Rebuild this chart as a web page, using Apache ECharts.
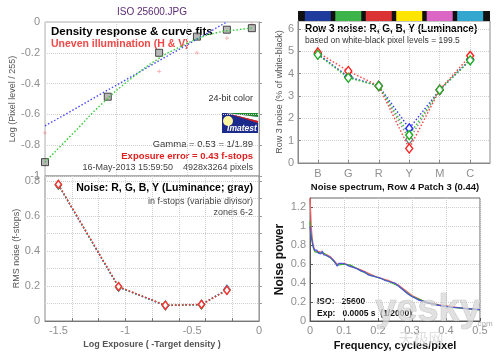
<!DOCTYPE html>
<html>
<head>
<meta charset="utf-8">
<script src="https://cdn.jsdelivr.net/npm/echarts@6/dist/echarts.min.js"></script>
<style>
  html, body { margin: 0; padding: 0; background: #fff; }
  #main { width: 500px; height: 353px; }
</style>
</head>
<body>
<div id="main"></div>
<script>
// density response (top left)
const densX = [-1.5, -1.06, -0.70, -0.435, -0.225, -0.05];
const densLevel = [-0.91, -0.485, -0.2, -0.095, -0.05, -0.04];
const densUneven = [-0.72, -0.49, -0.32, -0.2, -0.105, -0.015];
const fitX = [-1.5, -1.3, -1.1, -0.9, -0.7, -0.55, -0.435, -0.3, -0.15, -0.05];
const fitGreen = [-0.91, -0.72, -0.53, -0.37, -0.235, -0.16, -0.11, -0.07, -0.05, -0.04];
const fitBlueX = [-1.5, -0.225];
const fitBlue = [-0.675, 0];

// RMS noise in f-stops (bottom left)
const stopX = [-1.5, -1.05, -0.70, -0.43, -0.24];
const stopR = [0.782, 0.197, 0.09, 0.095, 0.176];
const stopG = [0.780, 0.195, 0.09, 0.093, 0.178];
const stopB = [0.779, 0.194, 0.089, 0.094, 0.181];
const stopY = [0.780, 0.195, 0.088, 0.094, 0.177];

// row 3 noise (top right)
const patchNames = ['B', 'G', 'R', 'Y', 'M', 'C'];
const patchPos = [1, 2, 3, 4, 5, 6];
const patchColors = ['#1f3b9b', '#3bb44a', '#db3334', '#ffe500', '#dc66c6', '#34a7d0'];
const row3R = [4.95, 4.12, 3.45, 0.65, 3.28, 4.80];
const row3G = [4.85, 3.82, 3.45, 1.25, 3.28, 4.60];
const row3B = [4.88, 3.85, 3.46, 1.55, 3.27, 4.62];
const row3Y = [4.88, 3.87, 3.44, 1.05, 3.28, 4.65];

// noise spectrum (bottom right)
const freq = [0, 0.002, 0.004, 0.006, 0.008, 0.01, 0.013, 0.016, 0.02, 0.024, 0.028, 0.032, 0.036, 0.04,
  0.045, 0.05, 0.055, 0.06, 0.065, 0.07, 0.075, 0.08, 0.085, 0.09, 0.095, 0.1, 0.105, 0.11, 0.115, 0.12,
  0.125, 0.13, 0.14, 0.15, 0.16, 0.17, 0.18, 0.19, 0.2, 0.21, 0.22, 0.23, 0.24, 0.25, 0.26, 0.27, 0.28,
  0.29, 0.3, 0.31, 0.32, 0.33, 0.34, 0.35, 0.36, 0.37, 0.38, 0.39, 0.4, 0.42, 0.44, 0.46, 0.48, 0.5];
const powerB = [1.0, 0.93, 0.88, 0.85, 0.80, 0.78, 0.75, 0.73, 0.75, 0.72, 0.74, 0.71, 0.74, 0.70,
  0.72, 0.69, 0.70, 0.67, 0.66, 0.64, 0.62, 0.58, 0.61, 0.62, 0.61, 0.61, 0.60, 0.61, 0.58, 0.59,
  0.57, 0.57, 0.55, 0.53, 0.52, 0.49, 0.48, 0.47, 0.46, 0.45, 0.43, 0.42, 0.41, 0.40, 0.37, 0.34, 0.31,
  0.28, 0.26, 0.24, 0.22, 0.21, 0.20, 0.19, 0.18, 0.17, 0.165, 0.16, 0.155, 0.145, 0.14, 0.13, 0.125, 0.12];
const freqC = [0, 0.002, 0.004, 0.007, 0.01, 0.015, 0.02, 0.03, 0.04, 0.05, 0.06, 0.08, 0.1, 0.12, 0.15,
  0.18, 0.2, 0.23, 0.26, 0.3, 0.34, 0.38, 0.42, 0.46, 0.5];
const powerR = [1.30, 1.15, 0.98, 0.86, 0.79, 0.74, 0.74, 0.73, 0.71, 0.70, 0.68, 0.60, 0.61, 0.58, 0.54,
  0.49, 0.46, 0.43, 0.38, 0.27, 0.20, 0.17, 0.15, 0.13, 0.12];
const powerG = [1.05, 0.95, 0.90, 0.83, 0.77, 0.73, 0.75, 0.72, 0.72, 0.69, 0.67, 0.59, 0.60, 0.59, 0.53,
  0.48, 0.46, 0.42, 0.37, 0.26, 0.20, 0.165, 0.145, 0.13, 0.118];

const FONT = 'Liberation Sans, Arial, sans-serif';
const pairs = (xs, ys) => xs.map((x, i) => [x, ys[i]]);

const dotGrid = { show: true, lineStyle: { color: '#d0d0d0', type: 'dotted', width: 1 } };
const tickLabel = { color: '#8f8f8f', fontSize: 10, fontFamily: FONT, margin: 5 };

let mychart = echarts.init(document.getElementById('main'));

const lineDot = (color) => ({ color: color, type: [1.5, 2], width: 1.4 });
const hollow = (color) => ({ color: '#fff', borderColor: color, borderWidth: 1.4 });

var option = {
  animation: false,
  backgroundColor: '#fff',
  grid: [
    { left: 45, top: 22, width: 214, height: 154, show: true, borderColor: '#b0b0b0', borderWidth: 1 },
    { left: 45, top: 176, width: 214, height: 145, show: true, borderColor: '#888', borderWidth: 1 },
    { left: 298, top: 21, width: 192, height: 142, show: true, borderColor: '#888', borderWidth: 1 },
    { left: 310, top: 198, width: 170, height: 123, show: true, borderColor: '#666', borderWidth: 1 },
    { left: 298, top: 11, width: 192, height: 10, show: true, backgroundColor: '#111', borderWidth: 0 }
  ],
  xAxis: [
    { gridIndex: 0, type: 'value', min: -1.5, max: 0, interval: 0.5,
      axisLine: { show: false }, axisTick: { show: false }, axisLabel: { show: false }, splitLine: dotGrid },
    { gridIndex: 1, type: 'value', min: -1.6, max: 0,
      name: 'Log Exposure ( -Target density )', nameLocation: 'middle', nameGap: 19,
      nameTextStyle: { color: '#555', fontSize: 9, fontWeight: 'bold', fontFamily: FONT },
      axisLine: { lineStyle: { color: '#777' } },
      axisTick: { inside: true, length: 3, lineStyle: { color: '#777' },
        customValues: [-1.4, -1.2, -1.0, -0.8, -0.6, -0.4, -0.2] },
      axisLabel: Object.assign({}, tickLabel, { customValues: [-1.5, -1, -0.5, 0], fontSize: 11, margin: 4 }),
      splitLine: dotGrid },
    { gridIndex: 2, type: 'value', min: 0.35, max: 6.65,
      axisLine: { lineStyle: { color: '#888' } },
      axisTick: { inside: true, length: 3, lineStyle: { color: '#888' }, customValues: patchPos },
      axisLabel: Object.assign({}, tickLabel, { customValues: patchPos, fontSize: 11,
        formatter: (v) => patchNames[Math.round(v) - 1] }),
      splitLine: dotGrid },
    { gridIndex: 3, type: 'value', min: 0, max: 0.5, interval: 0.1,
      name: 'Frequency, cycles/pixel', nameLocation: 'middle', nameGap: 19,
      nameTextStyle: { color: '#111', fontSize: 11, fontWeight: 'bold', fontFamily: FONT },
      axisLine: { lineStyle: { color: '#555' } },
      axisTick: { inside: true, length: 3, lineStyle: { color: '#555' } },
      axisLabel: Object.assign({}, tickLabel, { fontSize: 11, margin: 4 }),
      splitLine: dotGrid },
    { gridIndex: 4, type: 'value', min: 0.35, max: 6.65, show: false }
  ],
  yAxis: [
    { gridIndex: 0, type: 'value', min: -1, max: 0, interval: 0.2,
      name: 'Log (Pixel level / 255)', nameLocation: 'middle', nameGap: 26, nameRotate: 90,
      nameTextStyle: { color: '#555', fontSize: 9, fontFamily: FONT },
      axisLine: { show: true, lineStyle: { color: '#999' } },
      axisTick: { inside: true, length: 3, lineStyle: { color: '#999' } },
      axisLabel: Object.assign({}, tickLabel, { fontSize: 11 }),
      splitLine: dotGrid },
    { gridIndex: 1, type: 'value', min: 0, max: 0.83,
      name: 'RMS noise (f-stops)', nameLocation: 'middle', nameGap: 24, nameRotate: 90,
      nameTextStyle: { color: '#555', fontSize: 9, fontFamily: FONT },
      axisLine: { show: true, lineStyle: { color: '#999' } },
      axisTick: { inside: true, length: 3, lineStyle: { color: '#999' },
        customValues: [0.1, 0.2, 0.3, 0.4, 0.5, 0.6, 0.7, 0.8] },
      axisLabel: Object.assign({}, tickLabel, { fontSize: 11, customValues: [0, 0.2, 0.4, 0.6, 0.8] }),
      splitLine: dotGrid },
    { gridIndex: 2, type: 'value', min: 0, max: 6.36,
      name: 'Row 3 noise (% of white-black)', nameLocation: 'middle', nameGap: 13, nameRotate: 90,
      nameTextStyle: { color: '#555', fontSize: 9, fontFamily: FONT },
      axisLine: { show: true, lineStyle: { color: '#888' } },
      axisTick: { inside: true, length: 3, lineStyle: { color: '#888' }, customValues: [1, 2, 3, 4, 5, 6] },
      axisLabel: Object.assign({}, tickLabel, { fontSize: 11, margin: 4, customValues: [0, 1, 2, 3, 4, 5, 6] }),
      splitLine: dotGrid },
    { gridIndex: 3, type: 'value', min: 0, max: 1.3,
      name: 'Noise power', nameLocation: 'middle', nameGap: 24, nameRotate: 90,
      nameTextStyle: { color: '#111', fontSize: 12, fontWeight: 'bold', fontFamily: FONT },
      axisLine: { show: true, lineStyle: { color: '#555' } },
      axisTick: { inside: true, length: 3, lineStyle: { color: '#555' },
        customValues: [0.2, 0.4, 0.6, 0.8, 1, 1.2] },
      axisLabel: Object.assign({}, tickLabel, { fontSize: 11, margin: 4,
        customValues: [0, 0.2, 0.4, 0.6, 0.8, 1, 1.2] }),
      splitLine: dotGrid },
    { gridIndex: 4, type: 'value', min: 0, max: 1, show: false }
  ],
  series: [
    // top left
    { type: 'line', xAxisIndex: 0, yAxisIndex: 0, data: pairs(fitBlueX, fitBlue),
      symbol: 'none', lineStyle: lineDot('#4646ff') },
    { type: 'line', xAxisIndex: 0, yAxisIndex: 0, data: pairs(fitX, fitGreen), smooth: true,
      symbol: 'none', lineStyle: lineDot('#33cc33') },
    { type: 'scatter', xAxisIndex: 0, yAxisIndex: 0, data: pairs(densX, densUneven),
      symbol: 'path://M2,0H3V2H5V3H3V5H2V3H0V2H2Z', symbolSize: 4, itemStyle: { color: '#f39090' } },
    { type: 'scatter', xAxisIndex: 0, yAxisIndex: 0, data: pairs(densX, densLevel),
      symbol: 'rect', symbolSize: 7, itemStyle: { color: '#a8a8a8', borderColor: '#222', borderWidth: 1 } },
    // bottom left
    { type: 'line', xAxisIndex: 1, yAxisIndex: 1, data: pairs(stopX, stopY), symbol: 'diamond',
      symbolSize: [6, 8], lineStyle: lineDot('#808080'), itemStyle: hollow('#808080') },
    { type: 'line', xAxisIndex: 1, yAxisIndex: 1, data: pairs(stopX, stopB), symbol: 'diamond',
      symbolSize: [6, 8], lineStyle: lineDot('#3a3aff'), itemStyle: hollow('#3a3aff') },
    { type: 'line', xAxisIndex: 1, yAxisIndex: 1, data: pairs(stopX, stopG), symbol: 'diamond',
      symbolSize: [6, 8], lineStyle: lineDot('#2eb82e'), itemStyle: hollow('#2eb82e') },
    { type: 'line', xAxisIndex: 1, yAxisIndex: 1, data: pairs(stopX, stopR), symbol: 'diamond',
      symbolSize: [6, 8], lineStyle: lineDot('#ff3030'), itemStyle: hollow('#ff3030') },
    // top right
    { type: 'line', xAxisIndex: 2, yAxisIndex: 2, data: pairs(patchPos, row3Y), symbol: 'diamond',
      symbolSize: [7, 9], lineStyle: lineDot('#8c8c8c'), itemStyle: hollow('#7a7a7a') },
    { type: 'line', xAxisIndex: 2, yAxisIndex: 2, data: pairs(patchPos, row3B), symbol: 'diamond',
      symbolSize: [7, 9], lineStyle: lineDot('#3a3aff'), itemStyle: hollow('#2a2aff') },
    { type: 'line', xAxisIndex: 2, yAxisIndex: 2, data: pairs(patchPos, row3R), symbol: 'diamond',
      symbolSize: [7, 9], lineStyle: lineDot('#ff4040'), itemStyle: hollow('#ff2020') },
    { type: 'line', xAxisIndex: 2, yAxisIndex: 2, data: pairs(patchPos, row3G), symbol: 'diamond',
      symbolSize: [7, 9], lineStyle: lineDot('#33c033'), itemStyle: hollow('#22b022') },
    // color patches
    { type: 'bar', xAxisIndex: 4, yAxisIndex: 4, barWidth: 26,
      data: patchPos.map((p, i) => ({ value: [p, 1], itemStyle: { color: patchColors[i] } })) },
    // bottom right
    { type: 'line', xAxisIndex: 3, yAxisIndex: 3, data: pairs(freqC, powerR), symbol: 'none',
      lineStyle: { color: '#ff6060', width: 1.2 } },
    { type: 'line', xAxisIndex: 3, yAxisIndex: 3, data: pairs(freqC, powerG), symbol: 'none',
      lineStyle: { color: '#30b030', width: 1.2 } },
    { type: 'line', xAxisIndex: 3, yAxisIndex: 3, data: pairs(freq, powerB), symbol: 'none',
      lineStyle: { color: '#5050e0', width: 1.2 } }
  ],
  graphic: [
    { type: 'text', x: 152, y: 12, style: { text: 'ISO 25600.JPG', fill: '#5b2a72', font: '10px ' + FONT,
      textAlign: 'center', textVerticalAlign: 'middle' } },
    { type: 'text', x: 51, y: 32, style: { text: 'Density response & curve fits', fill: '#000',
      font: 'bold 11.5px ' + FONT, textVerticalAlign: 'middle' } },
    { type: 'text', x: 51, y: 44, style: { text: 'Uneven illumination (H & V)', fill: '#f04848',
      font: 'bold 10.5px ' + FONT, textVerticalAlign: 'middle' } },
    { type: 'text', x: 253, y: 99, style: { text: '24-bit color', fill: '#333',
      font: '9px ' + FONT, textAlign: 'right', textVerticalAlign: 'middle' } },
    // Imatest logo
    { type: 'rect', shape: { x: 222, y: 113, width: 36, height: 20 }, style: { fill: '#1c2a8c' } },
    { type: 'polygon', shape: { points: [[226, 113], [258, 113], [258, 117]] }, style: { fill: '#1a8a2a' } },
    { type: 'polygon', shape: { points: [[226, 113], [258, 117], [258, 121]] }, style: { fill: '#fff' } },
    { type: 'polygon', shape: { points: [[226, 113], [258, 121], [258, 123]] }, style: { fill: '#d82020' } },
    { type: 'circle', shape: { cx: 228, cy: 121, r: 5 }, style: { fill: '#fff6a0' } },
    { type: 'text', x: 242, y: 129, style: { text: 'Imatest', fill: '#fff',
      font: 'italic bold 8.5px ' + FONT, textAlign: 'center', textVerticalAlign: 'middle' } },
    { type: 'text', x: 253, y: 144, style: { text: 'Gamma = 0.53 = 1/1.89', fill: '#333',
      font: '9.5px ' + FONT, textAlign: 'right', textVerticalAlign: 'middle' } },
    { type: 'text', x: 253, y: 156, style: { text: 'Exposure error = 0.43 f-stops', fill: '#e02020',
      font: 'bold 9.5px ' + FONT, textAlign: 'right', textVerticalAlign: 'middle' } },
    { type: 'text', x: 253, y: 168, style: { text: '16-May-2013 15:59:50    4928x3264 pixels', fill: '#444',
      font: '9px ' + FONT, textAlign: 'right', textVerticalAlign: 'middle' } },
    { type: 'text', x: 253, y: 188, style: { text: 'Noise: R, G, B, Y (Luminance; gray)', fill: '#000',
      font: 'bold 10.5px ' + FONT, textAlign: 'right', textVerticalAlign: 'middle' } },
    { type: 'text', x: 253, y: 202, style: { text: 'in f-stops (variable divisor)', fill: '#444',
      font: '9px ' + FONT, textAlign: 'right', textVerticalAlign: 'middle' } },
    { type: 'text', x: 253, y: 213, style: { text: 'zones 6-2', fill: '#444',
      font: '9px ' + FONT, textAlign: 'right', textVerticalAlign: 'middle' } },
    { type: 'text', x: 305, y: 29, style: { text: 'Row 3 noise: R, G, B, Y (Luminance)', fill: '#000',
      font: 'bold 10px ' + FONT, textVerticalAlign: 'middle' } },
    { type: 'text', x: 305, y: 41, style: { text: 'based on white-black pixel levels = 199.5', fill: '#333',
      font: '8.5px ' + FONT, textVerticalAlign: 'middle' } },
    { type: 'text', x: 395, y: 187, style: { text: 'Noise spectrum, Row 4 Patch 3 (0.44)', fill: '#111',
      font: 'bold 9.5px ' + FONT, textAlign: 'center', textVerticalAlign: 'middle' } },
    { type: 'text', x: 317, y: 302, style: { text: 'ISO:   25600', fill: '#111',
      font: 'bold 8.5px ' + FONT, textVerticalAlign: 'middle' } },
    { type: 'text', x: 317, y: 314, style: { text: 'Exp:   0.0005 s  (1/2000)', fill: '#111',
      font: 'bold 8.5px ' + FONT, textVerticalAlign: 'middle' } },
    // watermark
    { type: 'text', x: 428, y: 311, z: 100, style: { text: 'yesky', fill: 'rgba(215,215,215,0.75)',
      stroke: 'rgba(150,150,150,0.55)', lineWidth: 0.7,
      font: 'bold 38px ' + FONT, textAlign: 'center', textVerticalAlign: 'middle' } },
    { type: 'text', x: 421, y: 338, z: 100, style: { text: '天极网', fill: 'rgba(215,215,215,0.8)',
      font: '15px Noto Sans CJK SC', textAlign: 'center', textVerticalAlign: 'middle' } },
    { type: 'text', x: 484, y: 324, z: 100, style: { text: '.com', fill: 'rgba(160,160,160,0.9)',
      font: '8px ' + FONT, textAlign: 'center', textVerticalAlign: 'middle' } }
  ]
};

mychart.setOption(option);
</script>
</body>
</html>
